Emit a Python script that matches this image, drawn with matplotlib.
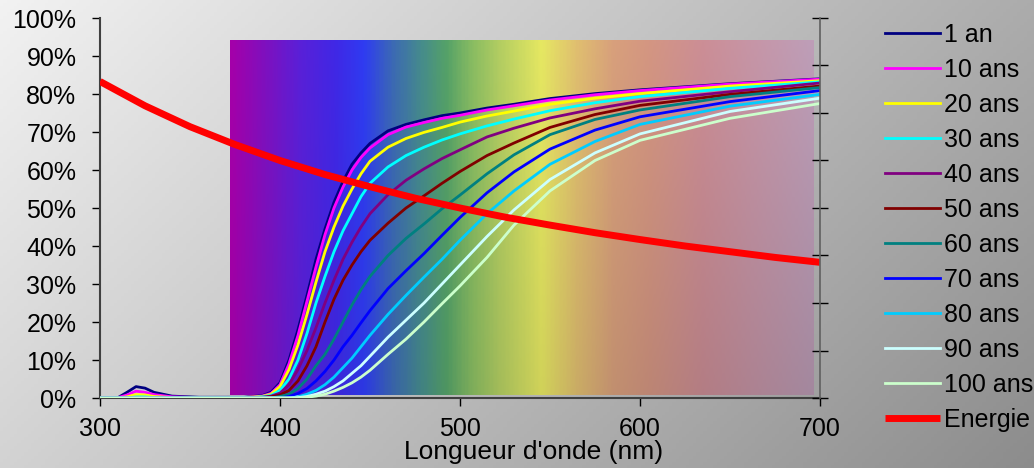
"""
Transmission du cristallin selon l'age, avec l'energie des photons.
"""
import numpy as np
import matplotlib
matplotlib.use('Agg')
import matplotlib.pyplot as plt
from matplotlib.colors import LinearSegmentedColormap, to_rgb
from matplotlib.ticker import FuncFormatter

plt.rcParams['font.family'] = ['Liberation Sans', 'DejaVu Sans']

# longueurs d'onde communes aux courbes d'age (nm)
wavelengths = [300, 310, 315, 320, 325, 330, 340, 355, 380, 390, 395, 400, 405, 410,
               415, 420, 425, 430, 435, 440, 445, 450, 460, 470, 480, 490, 500,
               515, 530, 550, 575, 600, 650, 700]

# transmission (%) par age
an_1 = [0, 0.1, 1.5, 3.0, 2.6, 1.5, 0.5, 0.2, 0.2, 0.6, 1.5, 4.0, 10.0, 18.0,
        27.0, 36.5, 44.5, 51.5, 57.0, 61.5, 64.5, 67.0, 70.3, 72.0, 73.2, 74.3, 75.0,
        76.3, 77.3, 78.8, 80.1, 81.1, 82.7, 84.0]
ans_10 = [0, 0.1, 0.8, 1.8, 1.5, 0.9, 0.3, 0.1, 0.1, 0.5, 1.2, 3.5, 9.0, 16.5,
          25.5, 34.5, 43.0, 50.0, 55.5, 60.0, 63.3, 65.8, 69.3, 71.3, 72.5, 73.6, 74.4,
          75.8, 76.9, 78.4, 79.8, 80.9, 82.6, 83.9]
ans_20 = [0, 0, 0.3, 0.9, 0.8, 0.4, 0.1, 0, 0.1, 0.4, 1.0, 3.0, 7.5, 14.0,
          22.0, 30.5, 38.5, 45.0, 50.5, 55.0, 59.0, 62.3, 66.0, 68.3, 69.9, 71.2, 72.6,
          74.2, 75.5, 77.3, 78.9, 80.1, 82.1, 83.5]
ans_30 = [0, 0, 0, 0.3, 0.3, 0.1, 0, 0, 0, 0.3, 0.7, 2.0, 5.0, 10.0,
          17.0, 25.0, 32.0, 38.5, 44.0, 48.5, 53.0, 56.5, 60.8, 63.8, 66.0, 67.9, 69.5,
          71.6, 73.4, 75.6, 77.7, 79.3, 81.5, 83.2]
ans_40 = [0, 0, 0, 0, 0, 0, 0, 0, 0, 0.2, 0.5, 1.3, 3.5, 7.5,
          12.5, 18.5, 25.0, 31.0, 36.5, 41.0, 45.0, 48.5, 53.5, 57.3, 60.3, 63.0, 65.3,
          68.7, 71.0, 73.7, 76.1, 78.1, 80.6, 82.9]
ans_50 = [0, 0, 0, 0, 0, 0, 0, 0, 0, 0.1, 0.3, 0.8, 2.0, 4.5,
          8.5, 13.5, 20.0, 26.0, 31.0, 35.0, 38.5, 41.5, 46.0, 50.0, 53.2, 56.5, 59.6,
          63.8, 67.1, 71.2, 74.6, 77.0, 79.9, 82.1]
ans_60 = [0, 0, 0, 0, 0, 0, 0, 0, 0, 0, 0, 0.4, 1.0, 2.5,
          5.0, 8.5, 11.5, 15.5, 20.0, 24.5, 28.5, 32.0, 37.5, 42.0, 45.8, 49.8, 53.4,
          59.0, 64.0, 69.3, 73.3, 75.8, 79.3, 81.7]
ans_70 = [0, 0, 0, 0, 0, 0, 0, 0, 0, 0, 0, 0, 0.4, 1.2,
          2.5, 4.5, 7.0, 10.0, 13.5, 16.5, 19.8, 23.0, 28.8, 33.5, 38.0, 42.8, 47.5,
          54.0, 59.5, 65.5, 70.5, 74.0, 78.0, 80.9]
ans_80 = [0, 0, 0, 0, 0, 0, 0, 0, 0, 0, 0, 0, 0, 0.3,
          1.0, 2.0, 3.5, 5.5, 8.0, 10.5, 13.5, 16.5, 22.0, 27.0, 31.8, 36.5, 41.5,
          48.5, 54.5, 61.5, 67.5, 72.0, 76.8, 79.9]
ans_90 = [0, 0, 0, 0, 0, 0, 0, 0, 0, 0, 0, 0, 0, 0.1,
          0.4, 1.0, 1.8, 3.0, 4.5, 6.5, 8.5, 11.0, 16.0, 20.5, 25.0, 30.0, 35.0,
          42.5, 49.5, 57.5, 64.5, 69.5, 75.4, 78.9]
ans_100 = [0, 0, 0, 0, 0, 0, 0, 0, 0, 0, 0, 0, 0, 0,
           0.2, 0.5, 1.0, 1.8, 2.8, 4.0, 5.5, 7.3, 11.5, 15.5, 20.0, 24.8, 29.5,
           37.0, 45.5, 54.5, 62.5, 67.8, 73.6, 77.5]

age_labels = ['1 an', '10 ans', '20 ans', '30 ans', '40 ans', '50 ans',
              '60 ans', '70 ans', '80 ans', '90 ans', '100 ans']
age_series = [an_1, ans_10, ans_20, ans_30, ans_40, ans_50,
              ans_60, ans_70, ans_80, ans_90, ans_100]
age_colors = ['#000080', '#FF00FF', '#FFFF00', '#00FFFF', '#800080', '#800000',
              '#008080', '#0000FF', '#00CCFF', '#CCFFFF', '#CCFFCC']

# energie relative des photons (%)
energy_wl = [300, 325, 350, 375, 400, 425, 450, 475, 500, 525, 550, 575, 600,
             625, 650, 675, 700]
energy = [83.3, 76.9, 71.4, 66.7, 62.5, 58.8, 55.6, 52.6, 50.0, 47.6, 45.5,
          43.5, 41.7, 40.0, 38.5, 37.0, 35.7]

# bandeau du spectre visible
spectrum_stops = [372, 390, 410, 430, 446, 462, 478, 492, 506, 522, 545,
                  565, 585, 605, 635, 665, 696]
spectrum_colors = ['#A400AA', '#8010BE', '#5A20D8', '#4028E6', '#2F3CF2', '#3C6AB4',
                   '#468C8C', '#55A268', '#88BC62', '#B4CE62', '#E6E862', '#E0BE70',
                   '#D8A07C', '#D49682', '#CC8E96', '#C696A8', '#BE9EB8']

W, H = 1034, 468
fig = plt.figure(figsize=(W / 100, H / 100), dpi=100)

# fond degrade gris
bg = fig.add_axes([0, 0, 1, 1], zorder=-10)
gx, gy = np.meshgrid(np.linspace(0, 1, 300), np.linspace(0, 1, 150))
shade = 0.95 - 0.40 * (0.69 * gx + 0.31 * gy)
bg.imshow(np.dstack([shade] * 3), extent=[0, 1, 0, 1], aspect='auto')
bg.axis('off')

ax = fig.add_axes([100 / W, 70 / H, 720 / W, 380 / H])
ax.set_facecolor('none')

# image du spectre
pos = [(s - spectrum_stops[0]) / (spectrum_stops[-1] - spectrum_stops[0]) for s in spectrum_stops]
cmap = LinearSegmentedColormap.from_list('spec', list(zip(pos, [to_rgb(c) for c in spectrum_colors])))
cols = cmap(np.linspace(0, 1, 400))[:, :3]
t = np.linspace(0, 1, 120)[:, None, None]
xw = (0.3 + 0.7 * np.linspace(0, 1, 400))[None, :, None]
img = cols[None, :, :] * (1 - 0.14 * t * xw)
ax.imshow(img, extent=[spectrum_stops[0], spectrum_stops[-1], 0.8, 94.2],
          aspect='auto', zorder=1)

for vals, lab, col in zip(age_series, age_labels, age_colors):
    ax.plot(wavelengths, vals, color=col, linewidth=2.0, label=lab, zorder=3)
ax.plot(energy_wl, energy, color='#FF0000', linewidth=5, label='Energie',
        zorder=4, solid_capstyle='butt')

ax.set_xlim(300, 700)
ax.set_ylim(0, 100)
ax.set_xticks([300, 400, 500, 600, 700])
ax.set_yticks(np.arange(0, 101, 10))
ax.yaxis.set_major_formatter(FuncFormatter(lambda v, p: f'{v:.0f}%'))
ax.tick_params(axis='both', labelsize=18, colors='black', width=1)
ax.tick_params(axis='y', direction='out', length=6, pad=11)
ax.tick_params(axis='x', direction='out', length=6, pad=8)
for side in ['top', 'right']:
    ax.spines[side].set_visible(False)
for side in ['left', 'bottom']:
    ax.spines[side].set_color('#404040')
    ax.spines[side].set_linewidth(1.5)

ax.set_xlabel("Longueur d'onde (nm)", fontsize=19)
ax.xaxis.set_label_coords(434 / 720, -0.142)
ax.xaxis.label.set_va('center')

# axe secondaire (graduations seules)
ax2 = ax.twinx()
ax2.set_ylim(0, 8)
ax2.set_yticks(range(9))
ax2.set_yticklabels([])
ax2.tick_params(axis='y', direction='inout', length=11, width=1, colors='black')
for side in ['top', 'left', 'bottom']:
    ax2.spines[side].set_visible(False)
ax2.spines['right'].set_color('#606060')
ax2.spines['right'].set_linewidth(1.2)

handles, labels = ax.get_legend_handles_labels()
ax.legend(handles, labels, loc='upper left', bbox_to_anchor=(885 / W, 1 - 23 / H),
          bbox_transform=fig.transFigure, frameon=False, fontsize=18,
          handlelength=2.2, handletextpad=0.15, labelspacing=0.44,
          borderpad=0, borderaxespad=0)

plt.savefig('out.png', dpi=100)
plt.close()
